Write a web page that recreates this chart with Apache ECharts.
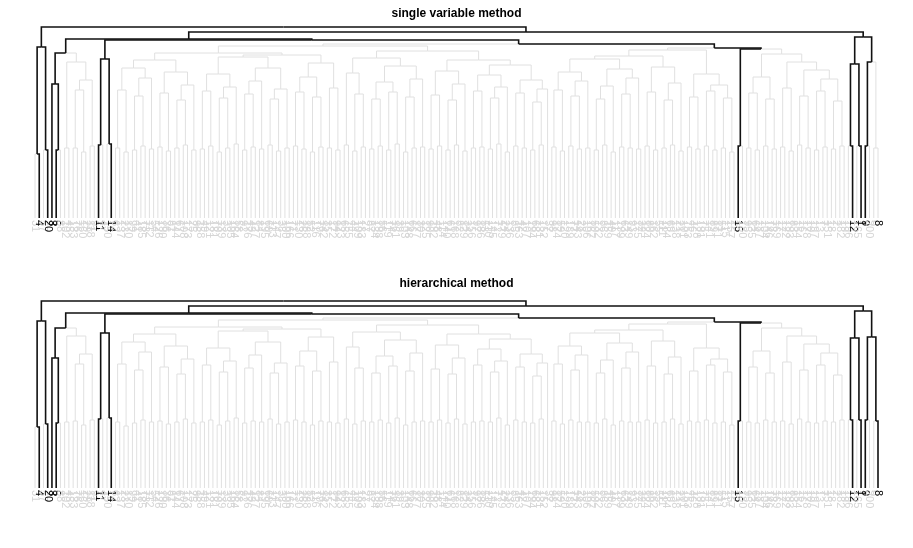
<!DOCTYPE html>
<html>
<head>
<meta charset="utf-8">
<script src="https://cdn.jsdelivr.net/npm/echarts@6/dist/echarts.min.js"></script>
<style>
  html, body { margin: 0; padding: 0; background: #fff; }
  #chart { width: 913px; height: 548px; }
</style>
</head>
<body>
<div id="chart"></div>
<script>
// leaf labels in plotted order (left to right)
const leafLabels = [
  '31','4','57','20','3','5','88','102','45','133','76','160','29','118','91','11','47','150','14','62',
  '137','23','170','99','41','185','73','112','54','126','190','36','81','144','67','108','173','25','96','158',
  '49','121','181','70','139','33','105','164','58','92','176','43','127','84','195','60','113','147','38','100',
  '166','71','130','26','188','52','116','79','142','35','172','94','123','65','155','44','109','183','27','87',
  '134','198','56','119','74','161','39','103','148','66','177','30','125','90','192','48','114','140','61','168',
  '82','129','34','156','97','186','53','110','145','72','179','24','136','85','163','42','107','194','68','131',
  '152','37','98','174','59','120','189','77','143','28','106','167','50','132','86','159','40','117','199','63',
  '149','93','175','32','124','80','162','55','111','184','69','138','21','101','153','46','128','191','75','141',
  '89','171','51','115','157','22','15','180','95','135','64','187','104','146','78','169','17','122','193','83',
  '154','16','178','10','197','13','7','151','18','2','182','19','196','12','165','1','9','200','6','8'
]
const boldLabels = ['4', '20', '3', '5', '11', '14', '15', '12', '1', '9', '8']

// height at which leaf i joins leaf i+1
const mergeHeights1 = [
  64, 171, 68, 191, 134, 68, 165, 70, 156, 70,
  128, 66, 138, 72, 179, 73, 159, 74, 178, 70,
  128, 66, 150, 68, 122, 72, 140, 69, 158, 71,
  125, 67, 146, 70, 118, 73, 133, 68, 165, 69,
  127, 72, 144, 66, 120, 70, 131, 74, 161, 68,
  124, 71, 137, 69, 150, 73, 119, 67, 129, 70,
  163, 72, 126, 69, 141, 66, 121, 71, 155, 70,
  130, 68, 172, 73, 145, 67, 124, 71, 160, 69,
  119, 72, 136, 68, 126, 74, 152, 66, 121, 70,
  139, 71, 167, 69, 123, 72, 147, 68, 118, 73,
  134, 67, 158, 70, 127, 71, 143, 69, 120, 74,
  131, 66, 153, 72, 125, 70, 138, 68, 116, 73,
  129, 174, 71, 128, 67, 146, 72, 122, 69, 137,
  70, 159, 68, 119, 73, 132, 66, 149, 71, 124,
  70, 140, 69, 162, 72, 126, 68, 151, 70, 118,
  73, 135, 67, 168, 71, 121, 69, 144, 72, 127,
  68, 133, 70, 120, 66, 170, 72, 169, 70, 125,
  68, 141, 72, 119, 69, 164, 71, 130, 67, 156,
  73, 122, 70, 148, 68, 127, 71, 139, 69, 117,
  72, 186, 72, 154, 72, 181, 72, 156, 70
]
const mergeHeights2 = [
  61, 167, 64, 187, 130, 65, 160, 66, 152, 67,
  124, 63, 134, 68, 175, 69, 155, 70, 174, 66,
  124, 62, 146, 65, 118, 68, 136, 66, 154, 67,
  121, 64, 142, 66, 114, 69, 129, 65, 161, 66,
  123, 68, 140, 63, 116, 67, 127, 70, 157, 65,
  120, 67, 133, 66, 146, 69, 115, 64, 125, 66,
  159, 68, 122, 66, 137, 63, 117, 67, 151, 66,
  126, 65, 168, 69, 141, 64, 120, 67, 156, 66,
  115, 68, 132, 65, 122, 70, 148, 63, 117, 66,
  135, 67, 163, 66, 119, 68, 143, 65, 114, 69,
  130, 64, 154, 66, 123, 67, 139, 66, 116, 70,
  127, 63, 149, 68, 121, 66, 134, 65, 112, 69,
  125, 170, 67, 124, 64, 142, 68, 118, 66, 133,
  66, 155, 65, 115, 69, 128, 63, 145, 67, 120,
  66, 136, 66, 158, 68, 122, 65, 147, 66, 114,
  69, 131, 64, 164, 67, 117, 66, 140, 68, 123,
  65, 129, 66, 116, 63, 166, 67, 165, 66, 121,
  65, 137, 68, 115, 66, 160, 67, 126, 64, 152,
  69, 118, 66, 144, 65, 123, 67, 135, 66, 113,
  68, 182, 68, 150, 68, 177, 68, 151, 67
]
// leaves whose branches are drawn in black
const marked1 = ['4', '20', '3', '5', '11', '14', '15', '12', '1', '9']
const marked2 = ['4', '20', '3', '5', '11', '14', '15', '12', '1', '9', '8']

const titles = ['single variable method', 'hierarchical method']

// turn merge heights into branch segments [childX, childH, nodeX, nodeH, black]
function buildSegments(heights, marked) {
  const segs = []
  const walk = (lo, hi) => {
    if (lo === hi) return { x: lo, h: 0, hit: marked.includes(leafLabels[lo]) }
    let k = lo
    for (let i = lo; i < hi; i++) if (heights[i] > heights[k]) k = i
    const l = walk(lo, k)
    const r = walk(k + 1, hi)
    const n = { x: (l.x + r.x) / 2, h: heights[k], hit: l.hit || r.hit }
    segs.push([l.x, l.h, n.x, n.h, l.hit ? 1 : 0])
    segs.push([r.x, r.h, n.x, n.h, r.hit ? 1 : 0])
    return n
  }
  walk(0, leafLabels.length - 1)
  return segs.sort((a, b) => a[4] - b[4])
}

function renderBranch(params, api) {
  const black = api.value(4) === 1
  const p1 = api.coord([api.value(0), api.value(1)])
  const p2 = api.coord([api.value(0), api.value(3)])
  const p3 = api.coord([api.value(2), api.value(3)])
  return {
    type: 'polyline',
    shape: { points: [p1, p2, p3] },
    style: { stroke: black ? '#111' : '#e0e0e0', lineWidth: black ? 1.6 : 1, fill: null },
  }
}

const font = 'Liberation Sans, Arial, Helvetica, sans-serif'
const panelTops = [27, 297]
const segs = [buildSegments(mergeHeights1, marked1), buildSegments(mergeHeights2, marked2)]

const chart = echarts.init(document.getElementById('chart'))
const option = {
  animation: false,
  backgroundColor: '#fff',
  title: titles.map((t, i) => ({
    text: t,
    left: 'center',
    top: panelTops[i] - 24,
    textStyle: { fontSize: 12, fontWeight: 'bold', color: '#000', fontFamily: font },
  })),
  grid: panelTops.map(top => ({ left: 35, right: 35, top: top, height: 191 })),
  xAxis: [0, 1].flatMap(g => [
    { type: 'value', gridIndex: g, position: 'top', min: 0, max: leafLabels.length - 1, show: false },
    {
      type: 'category',
      gridIndex: g,
      position: 'bottom',
      data: leafLabels,
      boundaryGap: false,
      axisLine: { show: false },
      axisTick: { show: false },
      splitLine: { show: false },
      axisLabel: {
        interval: 0,
        rotate: -90,
        margin: 2,
        fontSize: 11,
        fontFamily: font,
        color: v => (boldLabels.includes(v) ? '#000' : '#d6d6d6'),
      },
    },
  ]),
  yAxis: [0, 1].map(g => ({ type: 'value', gridIndex: g, min: 0, max: 191, show: false })),
  series: [0, 1].map(g => ({
    type: 'custom',
    xAxisIndex: g * 2,
    yAxisIndex: g,
    renderItem: renderBranch,
    encode: { x: [0, 2], y: [1, 3] },
    data: segs[g],
    silent: true,
  })),
}
chart.setOption(option)
</script>
</body>
</html>
